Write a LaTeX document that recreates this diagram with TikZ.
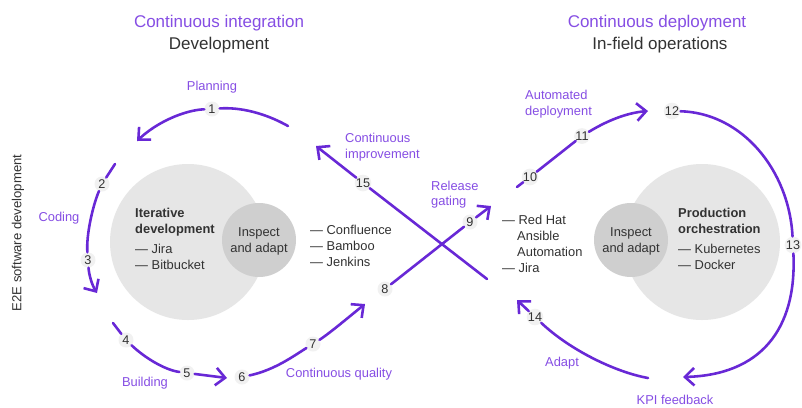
\documentclass[tikz,border=0pt]{standalone}
\usepackage{fontspec}
\setmainfont{Liberation Sans}
\usetikzlibrary{arrows.meta}

\definecolor{flow}{RGB}{104,40,214}
\definecolor{tag}{RGB}{134,78,228}
\definecolor{ink}{RGB}{50,50,50}
\definecolor{outerdisc}{RGB}{230,230,230}
\definecolor{innerdisc}{RGB}{207,207,207}
\definecolor{badgefill}{RGB}{241,241,241}

\tikzset{
  flowline/.style={draw=flow, line width=2.2pt, line cap=round},
  flowarrow/.style={flowline, -{Straight Barb[length=8pt,width=15pt]}},
  badge/.style={circle, fill=badgefill, inner sep=0pt, minimum size=0.45cm,
    text=ink, font=\fontsize{10.8}{12}\selectfont},
  headline/.style={inner sep=0pt, font=\fontsize{14.5}{17}\selectfont},
  steplabel/.style={inner sep=0pt, text=tag, font=\fontsize{11}{13}\selectfont, anchor=base},
  steplabelL/.style={steplabel, anchor=base west},
  bodytext/.style={inner sep=0pt, text=ink, font=\fontsize{11}{13}\selectfont, anchor=base west},
  boldtext/.style={bodytext, font=\fontsize{11}{13}\selectfont\bfseries},
  centertext/.style={inner sep=0pt, text=ink, font=\fontsize{11}{13}\selectfont, anchor=base},
}

\begin{document}
\begin{tikzpicture}[x=0.03cm, y=-0.03cm]
\useasboundingbox[fill=white] (0,0) rectangle (802,407);

% headings
\node[headline, text=tag, anchor=base] (ciTitle) at (219,27) {Continuous integration};
\node[headline, text=ink, anchor=base] (ciSub) at (219,49) {Development};
\node[headline, text=tag, anchor=base] (cdTitle) at (657,27) {Continuous deployment};
\node[headline, text=ink, anchor=base] (cdSub) at (660,49) {In-field operations};

% side caption
\node[inner sep=0pt, text=ink, font=\fontsize{11.2}{13}\selectfont, rotate=90] (side) at (18,233) {E2E software development};

% discs
\fill[outerdisc] (188,242) circle (78);
\fill[innerdisc] (259,240) circle (37);
\fill[outerdisc] (702,242) circle (78);
\fill[innerdisc] (631,240) circle (37);

% text inside the left disc
\node[boldtext] (itA) at (135,217) {Iterative};
\node[boldtext] (itB) at (135,233) {development};
\node[bodytext] (itC) at (135,253) {— Jira};
\node[bodytext] (itD) at (135,269) {— Bitbucket};
\node[centertext] (inLA) at (259,236) {Inspect};
\node[centertext] (inLB) at (259,252) {and adapt};

% tools in the middle
\node[bodytext] (toA) at (310,234) {— Confluence};
\node[bodytext] (toB) at (310,250) {— Bamboo};
\node[bodytext] (toC) at (310,266) {— Jenkins};

\node[bodytext] (rhA) at (502,224) {— Red Hat};
\node[bodytext] (rhB) at (517,240) {Ansible};
\node[bodytext] (rhC) at (517,256) {Automation};
\node[bodytext] (rhD) at (502,272) {— Jira};

% text inside the right disc
\node[centertext] (inRA) at (631,236) {Inspect};
\node[centertext] (inRB) at (631,252) {and adapt};
\node[boldtext] (poA) at (678,217) {Production};
\node[boldtext] (poB) at (678,233) {orchestration};
\node[bodytext] (poC) at (678,253) {— Kubernetes};
\node[bodytext] (poD) at (678,269) {— Docker};

% step labels
\node[steplabel] (lPlan) at (212,90) {Planning};
\node[steplabel] (lCode) at (59,221) {Coding};
\node[steplabel] (lBuild) at (145,386) {Building};
\node[steplabel] (lQual) at (339,377) {Continuous quality};
\node[steplabelL] (lImpA) at (345,142) {Continuous};
\node[steplabelL] (lImpB) at (345,158) {improvement};
\node[steplabelL] (lRelA) at (431,190) {Release};
\node[steplabelL] (lRelB) at (431,205) {gating};
\node[steplabelL] (lAutA) at (525,99) {Automated};
\node[steplabelL] (lAutB) at (525,115) {deployment};
\node[steplabel] (lAdapt) at (562,366) {Adapt};
\node[steplabel] (lKpi) at (675,404) {KPI feedback};

% numbered steps
\node[badge] (n1) at (212,109) {1};
\node[badge] (n2) at (102,184) {2};
\node[badge] (n3) at (88,260) {3};
\node[badge] (n4) at (126,340) {4};
\node[badge] (n5) at (187,373) {5};
\node[badge] (n6) at (242,377) {6};
\node[badge] (n7) at (313,344) {7};
\node[badge] (n8) at (385,289) {8};
\node[badge] (n9) at (470,222) {9};
\node[badge] (n10) at (530,177) {10};
\node[badge] (n11) at (582,136) {11};
\node[badge] (n12) at (672,111) {12};
\node[badge] (n13) at (793,245) {13};
\node[badge] (n14) at (535,317) {14};
\node[badge] (n15) at (363,183) {15};

% free ends of the connectors
\coordinate (s1) at (288,126);
\coordinate (e1) at (137,141);
\coordinate (s2) at (115,164);
\coordinate (e3) at (97,293);
\coordinate (s4) at (113,323);
\coordinate (e5) at (227,378);
\coordinate (e7) at (365,304);
\coordinate (e9) at (491,206);
\coordinate (s10) at (517,187);
\coordinate (e11) at (648,111);
\coordinate (e13) at (683,377);
\coordinate (s14) at (648,378);
\coordinate (e14) at (517,300);
\coordinate (s15) at (487,279);
\coordinate (e15) at (316,146);

% planning
\draw[flowline] (s1) .. controls (265,113) and (240,107) .. (n1);
\draw[flowarrow] (n1) .. controls (185,110) and (157,122) .. (e1);
% coding
\draw[flowline] (s2) -- (n2);
\draw[flowline] (n2) .. controls (93,205) and (86,235) .. (n3);
\draw[flowarrow] (n3) .. controls (89,275) and (92,285) .. (e3);
% building
\draw[flowline] (s4) -- (n4);
\draw[flowline] (n4) .. controls (145,358) and (165,370) .. (n5);
\draw[flowarrow] (n5) -- (e5);
% continuous quality
\draw[flowline] (n6) .. controls (275,370) and (295,355) .. (n7);
\draw[flowarrow] (n7) .. controls (330,333) and (350,316) .. (e7);
% release gating
\draw[flowline] (n8) -- (n9);
\draw[flowarrow] (n9) -- (e9);
% automated deployment
\draw[flowline] (s10) -- (n10);
\draw[flowline] (n10) -- (n11);
\draw[flowarrow] (n11) .. controls (605,122) and (625,113) .. (e11);
% KPI feedback
\draw[flowline] (n12) .. controls (742,113) and (789,170) .. (n13);
\draw[flowarrow] (n13) .. controls (797,330) and (760,375) .. (e13);
% adapt
\draw[flowline] (s14) .. controls (615,372) and (570,350) .. (n14);
\draw[flowarrow] (n14) -- (e14);
% continuous improvement
\draw[flowline] (s15) -- (n15);
\draw[flowarrow] (n15) -- (e15);

\end{tikzpicture}
\end{document}
